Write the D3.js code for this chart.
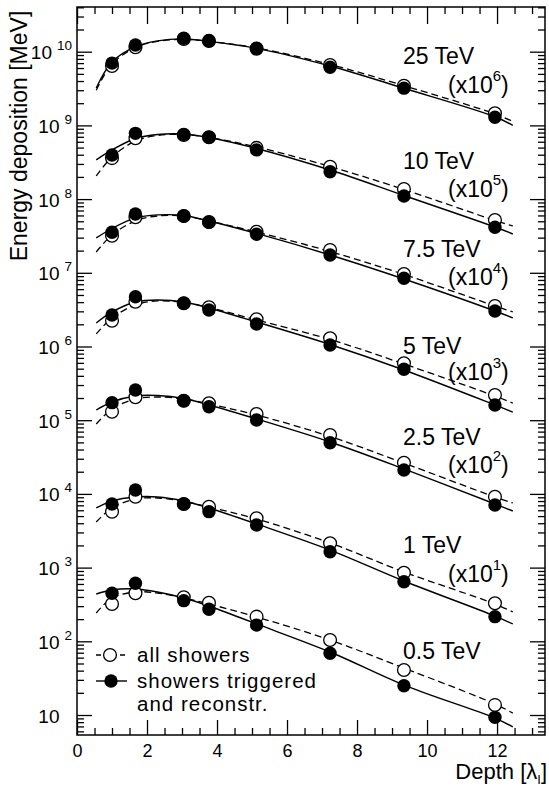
<!DOCTYPE html>
<html>
<head>
<meta charset="utf-8">
<script src="https://cdn.jsdelivr.net/npm/d3@7"></script>
<style>
  html, body { margin: 0; padding: 0; background: #fff; }
  svg { display: block; font-family: "Liberation Sans", Arial, Helvetica, sans-serif; }
</style>
</head>
<body>
<svg id="chart" width="549" height="788"></svg>
<script>
// Depths of the measurement planes, in interaction lengths
const depths = [1.0, 1.67, 3.05, 3.77, 5.13, 7.23, 9.34, 11.94];
// Depths at which the fitted longitudinal profiles are sampled
const fitDepths = [0.55, 1.0, 1.67, 2.3, 3.05, 3.77, 5.13, 7.23, 9.34, 11.94, 12.45];

const energies = ["25 TeV", "10 TeV", "7.5 TeV", "5 TeV", "2.5 TeV", "1 TeV", "0.5 TeV"];
// Each profile is multiplied by 10^exponent for display
const scaleExponents = [6, 5, 4, 3, 2, 1, 0];

// Energy deposition [MeV], all showers (open circles)
const allShowers = [
  [6400, 11500, 14900, 14000, 11000, 6600, 3450, 1460],
  [3600, 6700, 7400, 6900, 4950, 2750, 1370, 520],
  [3190, 5670, 5900, 4900, 3610, 2040, 964, 355],
  [2240, 4060, 3860, 3400, 2340, 1290, 592, 220],
  [1305, 2050, 1840, 1700, 1214, 630, 265, 91.6],
  [574, 916, 730, 670, 467, 214, 85.3, 32.8],
  [321, 448, 395, 334, 216, 104, 40.8, 13.7]
];

// Energy deposition [MeV], showers triggered and reconstructed (filled circles)
const triggered = [
  [7000, 12300, 15200, 14100, 11100, 6150, 3200, 1290],
  [3970, 7800, 7550, 6900, 4650, 2350, 1100, 415],
  [3550, 6280, 5900, 4850, 3330, 1745, 843, 303],
  [2680, 4740, 3860, 3130, 2020, 1050, 491, 161],
  [1730, 2570, 1840, 1525, 1007, 495, 211, 70.7],
  [730, 1130, 730, 574, 378, 164, 64.4, 21.6],
  [448, 612, 356, 272, 166, 68.7, 25.0, 9.3]
];

// Fitted profile, all showers (dashed), sampled at fitDepths
const fitAll = [
  [3000, 6810, 11400, 13800, 14750, 13840, 11240, 6710, 3460, 1430, 1130],
  [2060, 3725, 6140, 7290, 7530, 6850, 5090, 2770, 1350, 513, 432],
  [1916, 3260, 5050, 5900, 5900, 5050, 3580, 1946, 949, 355, 294],
  [1480, 2440, 3660, 4150, 3955, 3380, 2290, 1245, 579, 213, 171],
  [889, 1419, 1941, 2065, 1941, 1660, 1177, 601, 262, 90.8, 75.3],
  [416, 644, 853, 880, 789, 664, 457, 216, 87.2, 32.1, 25.0],
  [242, 387, 467, 452, 387, 321, 214, 104, 43.4, 14.1, 10.6]
];

// Fitted profile, triggered and reconstructed showers (solid), sampled at fitDepths
const fitTriggered = [
  [3215, 7250, 11700, 14000, 14900, 13800, 11100, 6400, 3190, 1310, 1000],
  [3400, 4640, 6640, 7530, 7640, 6850, 4860, 2480, 1120, 418, 336],
  [2970, 3990, 5550, 6100, 6000, 5050, 3420, 1745, 824, 303, 244],
  [2080, 2940, 4020, 4280, 4020, 3330, 2150, 1065, 480, 161, 129],
  [1376, 1766, 2130, 2160, 1970, 1608, 1039, 506, 218, 73, 58.6],
  [644, 801, 908, 908, 801, 644, 391, 173, 65.8, 22.0, 17.2],
  [438, 497, 513, 467, 387, 301, 172, 71.6, 25.5, 9.1, 6.9]
];

const yTickExponents = [1, 2, 3, 4, 5, 6, 7, 8, 9, 10];
const xTickValues = [0, 2, 4, 6, 8, 10, 12];

const legendLabels = ["all showers", "showers triggered", "and reconstr."];

// ---------------------------------------------------------------
const svg = d3.select("#chart");
const frame = { left: 77, right: 545, top: 7, bottom: 735 };

const x = d3.scaleLinear().domain([0, 13.37]).range([frame.left, frame.right]);
const y = d3.scaleLog().domain([5.355, 4.04e10]).range([frame.bottom, frame.top]);

// tick value sets
const yMajor = yTickExponents.map(e => Math.pow(10, e));
const yMinor = [];
for (let e = 0; e <= 10; e++) {
  for (let m = 2; m <= 9; m++) {
    const v = m * Math.pow(10, e);
    if (v > y.domain()[0] && v < y.domain()[1]) yMinor.push(v);
  }
}
const xMinor = d3.range(0.5, 13.01, 0.5).filter(v => Math.abs(v % 2) > 1e-6);

function addAxis(gen, tx, ty) {
  const g = svg.append("g").attr("transform", `translate(${tx},${ty})`).call(gen);
  g.select(".domain").remove();
  g.selectAll(".tick line").attr("stroke", "#000").attr("stroke-width", 1.3);
  return g;
}

// left / right axes (ticks point into the frame)
addAxis(d3.axisLeft(y).tickValues(yMajor).tickSize(-15).tickSizeOuter(0).tickFormat(""), frame.left, 0);
addAxis(d3.axisLeft(y).tickValues(yMinor).tickSize(-7).tickSizeOuter(0).tickFormat(""), frame.left, 0);
addAxis(d3.axisRight(y).tickValues(yMajor).tickSize(-15).tickSizeOuter(0).tickFormat(""), frame.right, 0);
addAxis(d3.axisRight(y).tickValues(yMinor).tickSize(-7).tickSizeOuter(0).tickFormat(""), frame.right, 0);

// bottom / top axes
const gx = addAxis(d3.axisBottom(x).tickValues(xTickValues).tickSize(-15).tickSizeOuter(0)
  .tickPadding(9).tickFormat(d3.format("d")), 0, frame.bottom);
gx.selectAll(".tick text").attr("font-size", 18).attr("fill", "#000")
  .attr("font-family", "'Liberation Sans', Arial, sans-serif");
addAxis(d3.axisBottom(x).tickValues(xMinor).tickSize(-7).tickSizeOuter(0).tickFormat(""), 0, frame.bottom);
addAxis(d3.axisTop(x).tickValues(xTickValues).tickSize(-17).tickSizeOuter(0).tickFormat(""), 0, frame.top);
addAxis(d3.axisTop(x).tickValues(xMinor).tickSize(-7).tickSizeOuter(0).tickFormat(""), 0, frame.top);

// frame
svg.append("rect")
  .attr("x", frame.left).attr("y", frame.top)
  .attr("width", frame.right - frame.left).attr("height", frame.bottom - frame.top)
  .attr("fill", "none").attr("stroke", "#000").attr("stroke-width", 1.5);

// y tick labels: 10, 10^2 ... 10^10
const yLab = svg.append("g").attr("fill", "#000");
yTickExponents.forEach(e => {
  const v = Math.pow(10, e);
  const t = yLab.append("text")
    .attr("x", e === 1 ? 59.5 : 72)
    .attr("y", y(v) + 7.5)
    .attr("text-anchor", "end")
    .attr("font-size", 19);
  t.append("tspan").text("10");
  if (e > 1) {
    t.append("tspan").attr("dx", 5).attr("dy", -9).attr("font-size", 13.5).text(String(e));
  }
});

// axis titles
svg.append("text")
  .attr("transform", `translate(27,136) rotate(-90)`)
  .attr("text-anchor", "middle")
  .attr("font-size", 23)
  .text("Energy deposition [MeV]");

const xt = svg.append("text")
  .attr("x", 547).attr("y", 779)
  .attr("text-anchor", "end")
  .attr("font-size", 22);
xt.append("tspan").text("Depth [λ");
xt.append("tspan").attr("font-size", 13).attr("dy", 5).text("I");
xt.append("tspan").attr("dy", -5).text("]");

// profiles
const scaled = (vals, i) => vals.map(v => v * Math.pow(10, scaleExponents[i]));
const line = d3.line()
  .x(d => x(d[0]))
  .y(d => y(d[1]))
  .curve(d3.curveCatmullRom.alpha(0.5));

const curves = svg.append("g").attr("fill", "none").attr("stroke", "#000");
energies.forEach((name, i) => {
  const dash = d3.zip(fitDepths, scaled(fitAll[i], i));
  const solid = d3.zip(fitDepths, scaled(fitTriggered[i], i));
  curves.append("path").attr("d", line(dash))
    .attr("stroke-width", 1.3).attr("stroke-dasharray", "7,4");
  curves.append("path").attr("d", line(solid))
    .attr("stroke-width", 1.4);
});

const pts = svg.append("g");
energies.forEach((name, i) => {
  pts.selectAll(null)
    .data(d3.zip(depths, scaled(allShowers[i], i)))
    .join("circle")
    .attr("cx", d => x(d[0])).attr("cy", d => y(d[1])).attr("r", 6.4)
    .attr("fill", "#fff").attr("stroke", "#000").attr("stroke-width", 1.3);
});
energies.forEach((name, i) => {
  pts.selectAll(null)
    .data(d3.zip(depths, scaled(triggered[i], i)))
    .join("circle")
    .attr("cx", d => x(d[0])).attr("cy", d => y(d[1])).attr("r", 6.7)
    .attr("fill", "#000");
});

// energy labels with scale factors
const labelBaselines = [[64, 93], [169, 197], [257, 285], [354, 380], [445, 473], [553, 582], [659, null]];
const labels = svg.append("g").attr("font-size", 23).attr("fill", "#000");
energies.forEach((name, i) => {
  const [ny, fy] = labelBaselines[i];
  labels.append("text").attr("x", 403).attr("y", ny).text(name);
  if (fy !== null) {
    const t = labels.append("text").attr("x", 448).attr("y", fy);
    t.append("tspan").text("(x10");
    t.append("tspan").attr("dy", -12).attr("font-size", 15).text(String(scaleExponents[i]));
    t.append("tspan").attr("dy", 12).text(")");
  }
});

// legend
const lg = svg.append("g");
lg.append("line").attr("x1", 96).attr("x2", 126).attr("y1", 655).attr("y2", 655)
  .attr("stroke", "#000").attr("stroke-width", 1.3).attr("stroke-dasharray", "5,3");
lg.append("circle").attr("cx", 110).attr("cy", 655).attr("r", 6.4)
  .attr("fill", "#fff").attr("stroke", "#000").attr("stroke-width", 1.3);
lg.append("line").attr("x1", 96).attr("x2", 127).attr("y1", 681).attr("y2", 681)
  .attr("stroke", "#000").attr("stroke-width", 1.4);
lg.append("circle").attr("cx", 111).attr("cy", 681).attr("r", 6.7).attr("fill", "#000");
const lgText = lg.append("g").attr("font-size", 20.5).attr("letter-spacing", 1).attr("fill", "#000");
const legendBaselines = [662, 688, 711];
legendLabels.forEach((s, k) => {
  lgText.append("text").attr("x", 137).attr("y", legendBaselines[k]).text(s);
});
</script>
</body>
</html>
